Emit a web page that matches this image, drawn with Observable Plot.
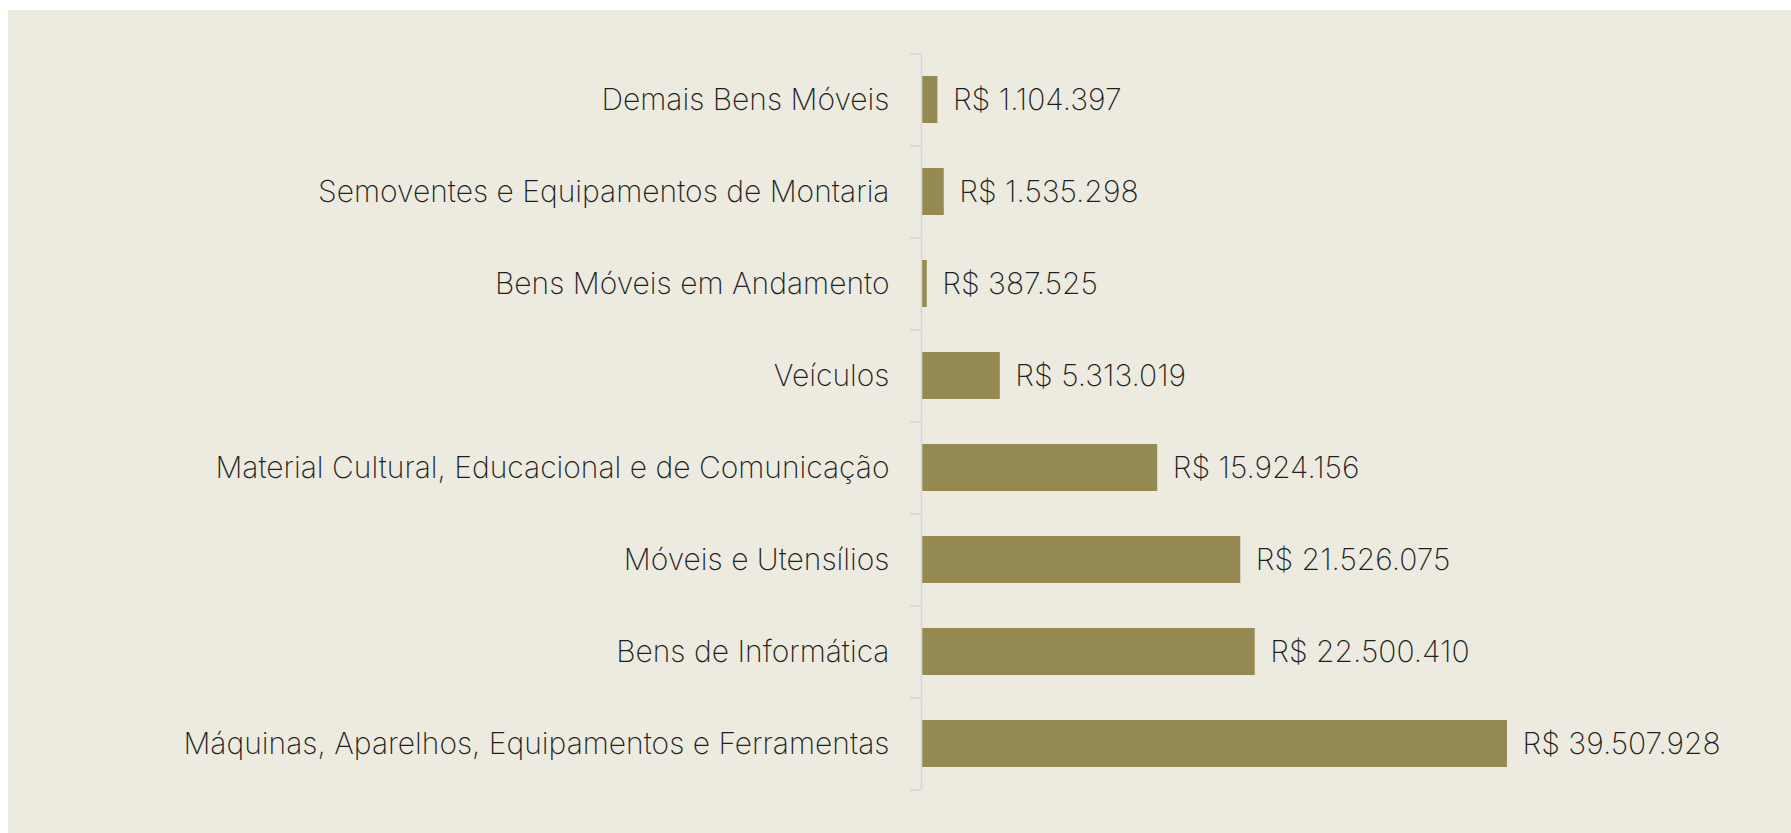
<!DOCTYPE html>
<html>
<head>
<meta charset="utf-8">
<script src="https://cdn.jsdelivr.net/npm/d3@7"></script>
<script src="https://cdn.jsdelivr.net/npm/@observablehq/plot@0.6"></script>
<style>
  html, body { margin: 0; padding: 0; background: #ffffff; }
  #panel { position: absolute; left: 8px; top: 10px; width: 1783px; height: 823px; background: #EDEBE0; }
  #panel svg { display: block; }
</style>
</head>
<body>
<div id="panel"></div>
<script>
const categories = [
  "Demais Bens Móveis",
  "Semoventes e Equipamentos de Montaria",
  "Bens Móveis em Andamento",
  "Veículos",
  "Material Cultural, Educacional e de Comunicação",
  "Móveis e Utensílios",
  "Bens de Informática",
  "Máquinas, Aparelhos, Equipamentos e Ferramentas"
];
const values = [1104397, 1535298, 387525, 5313019, 15924156, 21526075, 22500410, 39507928];

const data = categories.map((c, i) => ({category: c, value: values[i]}));
const br = d3.formatLocale({decimal: ",", thousands: ".", grouping: [3], currency: ["R$ ", ""]});
const fmt = v => "R$ " + br.format(",d")(v);

const W = 1783, H = 823, mT = 43, mB = 43, mL = 913, mR = 284;
const step = (H - mT - mB) / categories.length;
const font = "Inter, 'Noto Sans', sans-serif";

const chart = Plot.plot({
  width: W,
  height: H,
  marginTop: mT,
  marginBottom: mB,
  marginLeft: mL,
  marginRight: mR,
  style: {background: "transparent", fontFamily: font, fontSize: "30px", color: "#1f1f1f"},
  x: {domain: [0, d3.max(values)], axis: null},
  y: {domain: categories, paddingInner: 0.49, paddingOuter: 0.245, label: null},
  marks: [
    Plot.barX(data, {y: "category", x: "value", fill: "#948A52", insetLeft: 1}),
    Plot.ruleX([0], {stroke: "#d6d6d6", strokeWidth: 1.6}),
    Plot.ruleY(categories, {y: d => d, x1: 0, x2: 0, insetLeft: -11, dy: -step / 2, stroke: "#d6d6d6", strokeWidth: 1.6}),
    Plot.ruleY([categories[categories.length - 1]], {y: d => d, x1: 0, x2: 0, insetLeft: -11, dy: step / 2, stroke: "#d6d6d6", strokeWidth: 1.6}),
    Plot.axisY({tickSize: 0, tickPadding: 32, label: null, fontWeight: 200, fill: "#1f1f1f"}),
    Plot.text(data, {y: "category", x: "value", text: d => fmt(d.value), dx: 15, textAnchor: "start", fontWeight: 200, fill: "#1f1f1f"})
  ]
});
document.getElementById("panel").appendChild(chart);
</script>
</body>
</html>
